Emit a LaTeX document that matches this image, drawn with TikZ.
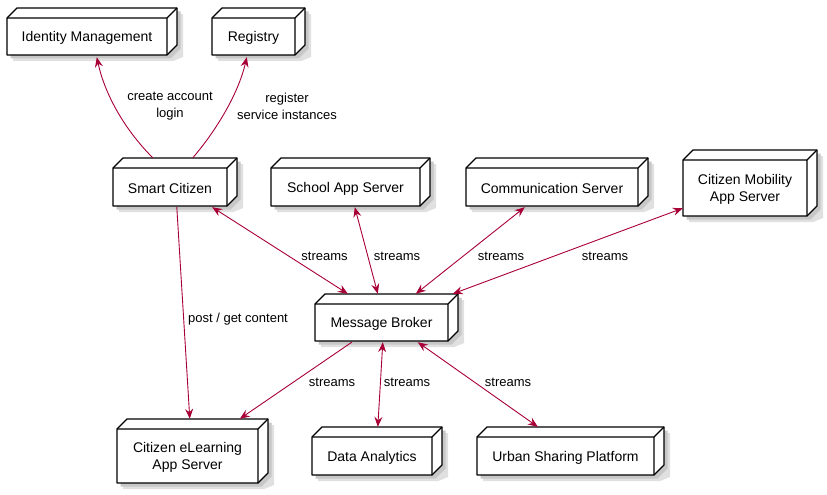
\documentclass[tikz,border=0pt]{standalone}
\usepackage{fontspec}
\setmainfont{Liberation Sans}
\usetikzlibrary{calc,arrows.meta}
\definecolor{edgec}{HTML}{A80036}
\tikzset{
  boxline/.style={draw=black, line width=1.3pt, line join=round},
  boxlabel/.style={inner sep=0pt, align=center, font=\fontsize{14}{16.5}\selectfont},
  elabel/.style={inner sep=0pt, align=center, font=\fontsize{13}{17}\selectfont},
  conn/.style={draw=edgec, line width=0.9pt},
  tip/.style={-{Stealth[length=10pt,width=8pt,inset=3.5pt]}},
  tips/.style={{Stealth[length=10pt,width=8pt,inset=3.5pt]}-{Stealth[length=10pt,width=8pt,inset=3.5pt]}}
}
% #1 name, #2 x1, #3 y1, #4 x2, #5 y2, #6 text
\newcommand\dbox[6]{%
  \fill[black!12] (#2+6,#3+6) -- (#2+16,#3-4) -- (#4+16,#3-4) -- (#4+16,#5+2) -- (#4+6,#5+6) -- (#2+6,#5+6) -- cycle;
  \fill[black!22] (#2+3.5,#3+3.5) -- (#2+13.5,#3-6.5) -- (#4+13.5,#3-6.5) -- (#4+13.5,#5-6.5) -- (#4+3.5,#5+3.5) -- (#2+3.5,#5+3.5) -- cycle;
  \draw[boxline, fill=white] (#2,#3) -- (#2+10,#3-10) -- (#4+10,#3-10) -- (#4+10,#5-10) -- (#4,#5) -- (#2,#5) -- cycle;
  \draw[boxline] (#2,#3) -- (#4,#3) -- (#4,#5) (#4,#3) -- (#4+10,#3-10);
  \node[inner sep=0pt, minimum width={(#4-#2)*1pt}, minimum height={(#5-#3)*1pt}] (#1) at ({(#2+#4)/2},{(#3+#5)/2}) {};
  \node[boxlabel] (#1-t) at ($(#1.center)+(0,1.5)$) {#6};
}
\begin{document}
\begin{tikzpicture}[x=1pt,y=-1pt]
\useasboundingbox (0,0) rectangle (827,495);
\fill[white] (0,0) rectangle (827,495);

\dbox{idm}{7}{18}{167}{55}{Identity Management}
\dbox{reg}{212}{18}{295}{55}{Registry}
\dbox{sc}{113}{168}{227}{206}{Smart Citizen}
\dbox{school}{271}{168}{420}{206}{School App Server}
\dbox{comm}{466}{168}{638}{206}{Communication Server}
\dbox{mob}{683}{160}{807}{216}{Citizen Mobility\\App Server}
\dbox{mb}{315}{304}{448}{341}{Message Broker}
\dbox{elearn}{117}{429}{258}{483}{Citizen eLearning\\App Server}
\dbox{da}{312}{437}{432}{475}{Data Analytics}
\dbox{urban}{477}{437}{654}{475}{Urban Sharing Platform}

% connectors
\draw[conn, tip] ($(sc.north west)+(40,-10)$) .. controls (125,130) and (105,95) .. ($(idm.south west)+(90,2)$);
\draw[conn, tip] ($(sc.north west)+(80,-10)$) .. controls (215,132) and (238,95) .. ($(reg.south west)+(35,2)$);
\draw[conn, tips] ($(sc.south east)+(-15,1)$) -- ($(mb.north west)+(33,-10)$);
\draw[conn, tips] ($(school.south west)+(84,1)$) -- ($(mb.north west)+(63,-10)$);
\draw[conn, tips] ($(comm.south west)+(59,1)$) -- ($(mb.north west)+(101,-10)$);
\draw[conn, tips] ($(mob.south west)+(0,-8)$) -- ($(mb.north west)+(138,-10)$);
\draw[conn, tip] ($(sc.south west)+(64,1)$) -- ($(elearn.north west)+(73,-10)$);
\draw[conn, tip] ($(mb.south west)+(37,1)$) -- ($(elearn.north west)+(123,-10)$);
\draw[conn, tips] ($(mb.south west)+(68,1)$) -- ($(da.north west)+(66,-10)$);
\draw[conn, tips] ($(mb.south west)+(103,1)$) -- ($(urban.north west)+(61,-10)$);

% labels
\node[elabel] (l1) at (170,106.5) {create account\\login};
\node[elabel] (l2) at (287,106.5) {register\\service instances};
\node[elabel] (l3) at (324.5,256.5) {streams};
\node[elabel] (l4) at (397,256.5) {streams};
\node[elabel] (l5) at (501,256.5) {streams};
\node[elabel] (l6) at (605,256.5) {streams};
\node[elabel] (l7) at (238,319.5) {post / get content};
\node[elabel] (l8) at (332,382.5) {streams};
\node[elabel] (l9) at (407,382.5) {streams};
\node[elabel] (l10) at (508,382.5) {streams};
\end{tikzpicture}
\end{document}
